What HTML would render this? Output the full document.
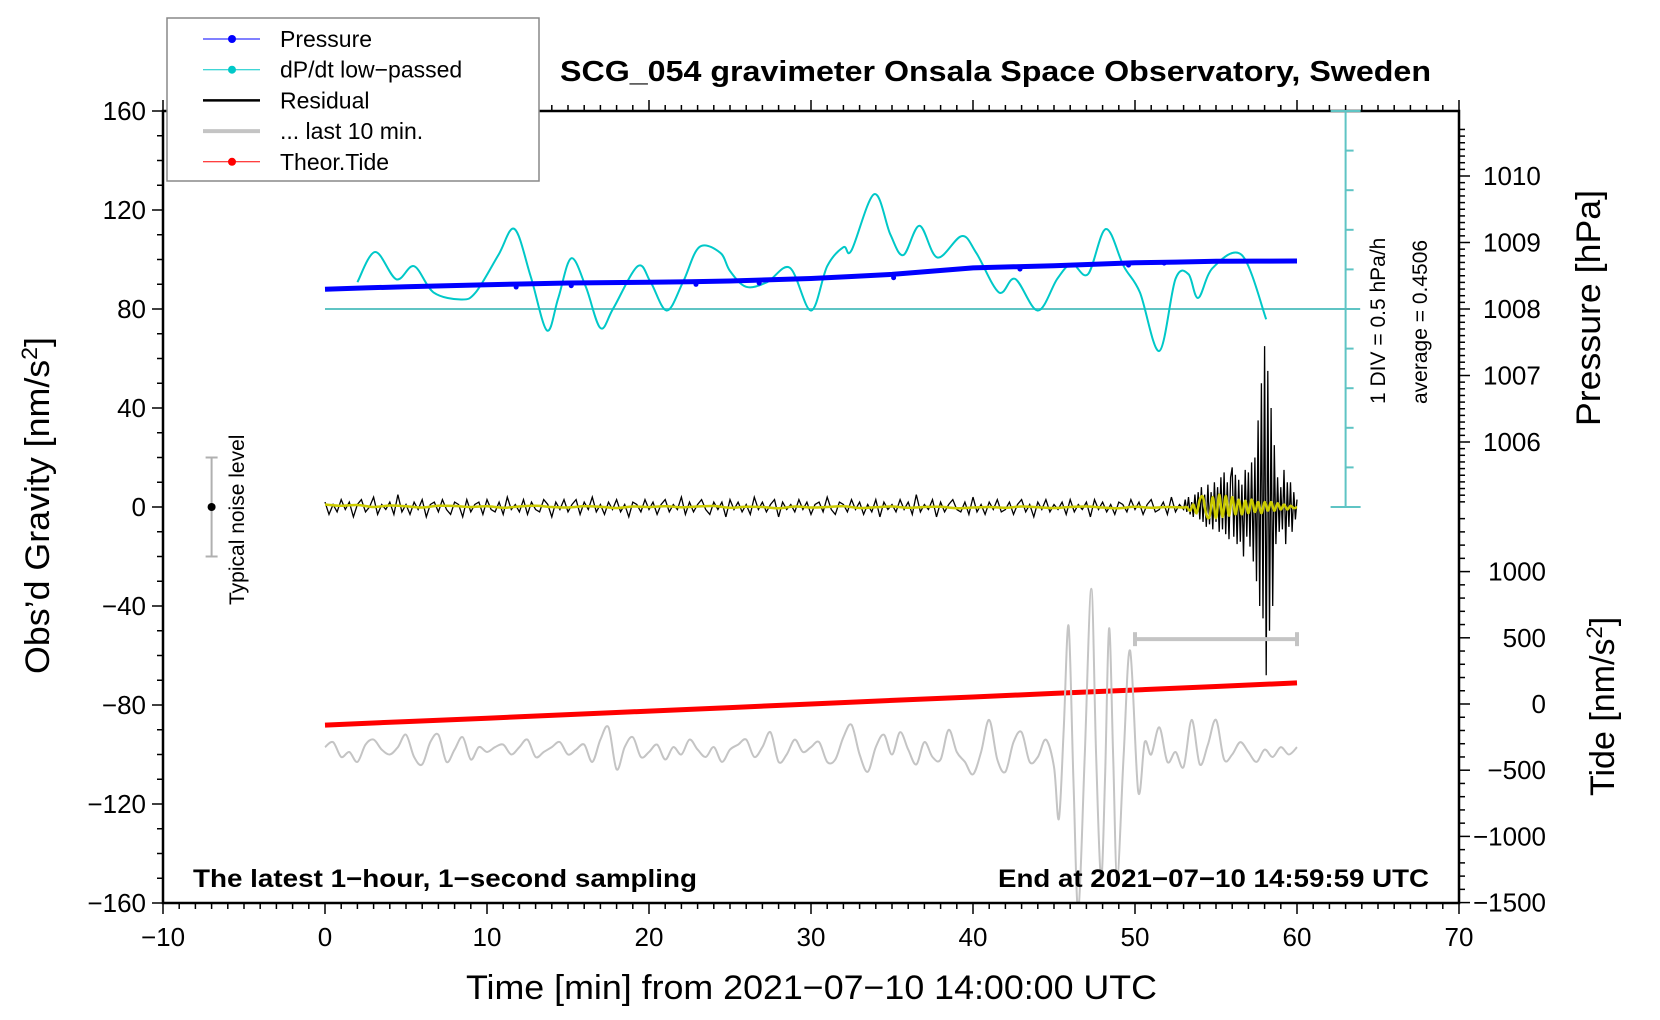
<!DOCTYPE html>
<html><head><meta charset="utf-8"><style>
html,body{margin:0;padding:0;background:#fff;}
svg{display:block;font-family:"Liberation Sans",Arial,sans-serif;}
</style></head><body>
<svg id="chart" width="1660" height="1020" viewBox="0 0 1660 1020" xmlns="http://www.w3.org/2000/svg">
<defs><clipPath id="plotclip"><rect x="163" y="111" width="1296" height="792"/></clipPath></defs>
<g id="marks" clip-path="url(#plotclip)"></g>
<g id="axes"></g>
</svg>
<script>
// ---- data ----
const xTickLabels = [-10,0,10,20,30,40,50,60,70];
const gravTickLabels = [160,120,80,40,0,-40,-80,-120,-160];
const pressTickLabels = [1010,1009,1008,1007,1006];
const tideTickLabels = [1000,500,0,-500,-1000,-1500];
// pressure (hPa) every 2.5 min from t=0
const pressureVals = [1008.298,1008.318,1008.335,1008.350,1008.365,1008.378,1008.391,1008.397,1008.402,1008.410,1008.421,1008.440,1008.458,1008.488,1008.521,1008.570,1008.618,1008.635,1008.651,1008.674,1008.696,1008.706,1008.718,1008.720,1008.722];
const pressOutT = [11.8,15.2,22.9,26.8,35.1,42.9,49.6,51.8];
const pressOutP = [1008.33,1008.35,1008.37,1008.39,1008.47,1008.60,1008.66,1008.69];
// dP/dt low-passed (hPa/h)
const dpdtT = [2.0,3.1,4.4,5.5,6.7,8.4,9.3,10.7,11.7,12.7,13.7,14.4,15.2,16.1,17.0,17.8,19.3,20.1,21.1,22.1,23.1,24.4,25.0,26.0,27.3,28.7,30.0,31.0,32.0,32.5,33.9,34.9,35.7,36.7,37.8,39.3,40.2,41.6,42.6,44.0,45.2,46.1,47.1,48.2,49.3,50.3,51.5,52.5,53.3,53.9,54.8,56.6,58.1];
const dpdtV = [0.34,0.72,0.375,0.54,0.21,0.12,0.21,0.68,1.01,0.41,-0.27,0.14,0.64,0.28,-0.24,0.01,0.54,0.34,-0.02,0.34,0.78,0.71,0.48,0.28,0.34,0.52,-0.02,0.54,0.78,0.74,1.45,0.94,0.68,1.05,0.65,0.92,0.71,0.21,0.38,-0.02,0.38,0.57,0.44,1.01,0.54,0.21,-0.53,0.38,0.44,0.14,0.52,0.68,-0.13];
// residual (nm/s2): calm part every 0.25 min from t=0, burst part every 0.1 min from t=53.1
const residualCalm = [2,-3,1,-2,3,-1,2,-4,1,3,-2,0,4,-3,1,-1,2,-3,5,-2,
1,-3,2,-1,3,-4,1,2,-2,3,-1,-3,2,1,-4,3,-2,1,2,-3,
3,-1,-2,2,-3,4,-1,1,-2,3,-3,2,-1,-2,3,1,-4,2,-1,3,
-2,1,3,-3,2,-1,4,-2,1,-3,2,-1,3,-2,1,-4,2,1,-2,3,
-1,2,-3,1,3,-2,1,-1,4,-3,2,-2,1,3,-1,-3,2,-1,2,-4,
3,-1,2,-2,1,-3,4,-1,2,-2,1,3,-4,2,-1,1,-2,3,-1,2,
-3,1,2,-2,4,-1,-3,2,1,-2,3,-1,2,-3,1,-2,3,-4,2,-1,
1,-2,3,-1,2,-3,5,-2,1,-1,3,-4,2,-2,1,3,-1,-2,2,-3,
4,-2,1,-3,2,-1,3,-2,-1,2,-3,1,3,-2,1,-4,2,-1,3,-2,
1,-1,2,-3,3,-2,1,-1,2,-4,3,-1,2,-2,1,-3,2,1,-2,3,
-1,2,-3,1,3,-2,-1,2,-3,4,-2,1,-1];
const residualBurst = [3,-2,4,-3,2,-4,5,-3,6,-5,
8,-6,5,-8,9,-7,6,-9,10,-6,
8,-10,12,-9,14,-11,10,-13,12,16,
-12,13,-15,11,-14,9,-20,15,-12,14,
-16,18,-22,20,-30,35,-40,50,-45,65,
-68,55,-50,40,-40,25,-15,12,-10,8,
-9,15,-15,10,-8,10,-10,6,-5,3];
// smoothed residual (yellow): every 1 min from 0..53, then every 0.2 from 53.2
const smoothCalm = [1,0.5,0.8,0,0.6,0.3,-0.2,0.5,0.4,0,0.3,-0.3,0.2,0.5,0,-0.2,0.3,0.1,-0.4,0.2,0,0.3,-0.1,0.2,0.4,-0.3,0.1,0,-0.5,0.2,-0.2,0,0.3,-0.4,-0.1,0.2,-0.3,0,0.1,-0.5,-0.2,0,-0.3,0.2,-0.1,-0.4,0,0.2,-0.2,-0.5,0.1,-0.3,0,-0.2];
const smoothBurst = [0,-1.5,1,-2.5,3,4,-3,-4,4,-4.5,5,-4,4.5,-3.5,4,-3,3,-3,2.5,-2.5,3,-2,2,-2.5,2,-1.5,2,-1.5,1.5,-1,1,-1,0.5,-0.5,0];
// last 10 min (stretched), gravity axis units: uniform every 0.5 min from 0..44.5, then tail
const grayUniform = [-97,-95,-101,-99,-103,-96,-94,-98,-100,-97,-92,-101,-104,-95,-92,-103,-98,-93,-102,-97,
-99,-97,-96,-100,-97,-94,-101,-99,-97,-95,-100,-98,-96,-103,-94,-89,-106,-97,-93,-101,
-99,-96,-102,-97,-100,-94,-98,-101,-97,-103,-98,-96,-94,-101,-97,-91,-103,-100,-94,-99,
-97,-95,-103,-102,-93,-88,-100,-107,-97,-92,-100,-91,-98,-104,-95,-101,-102,-90,-99,-103,
-108,-99,-86,-102,-107,-95,-91,-103,-101,-94];
const grayTailT = [45,45.3,45.6,45.9,46.2,46.5,46.9,47.3,47.6,47.9,48.15,48.4,48.65,48.9,49.3,49.7,50.2,50.6,51,51.5,52,52.5,53,53.5,54,54.5,55,55.5,56,56.5,57,57.5,58,58.5,59,59.5,60];
const grayTailV = [-105,-126,-90,-48,-110,-163,-100,-33,-100,-150,-110,-49,-100,-150,-100,-58,-115,-95,-100,-89,-103,-99,-105,-86,-104,-96,-86,-102,-100,-95,-99,-103,-98,-101,-97,-100,-97];
// theoretical tide (nm/s2) every 5 min
const tideVals = [-159,-133,-107,-80,-54,-27,0,27,53,80,106,132,159];

// ---- scales ----
const xS = t => 163 + (t + 10) * 16.2;
const yG = g => 111 + (160 - g) * 2.475;
const yP = p => 309 - (p - 1008) * 66.5;
const yT = v => 704 - v * 66.2 / 500;
const yD = v => yG(80) - v * 32 * 2.475;

const NS = 'http://www.w3.org/2000/svg';
const marks = document.getElementById('marks');
const axes = document.getElementById('axes');
function mk(tag, attrs, parent){ const e=document.createElementNS(NS,tag); for(const k in attrs) e.setAttribute(k,attrs[k]); parent.appendChild(e); return e; }
function smooth(pts){
  let d='M'+pts[0][0].toFixed(1)+','+pts[0][1].toFixed(1);
  for(let i=0;i<pts.length-1;i++){
    const p0=pts[i-1]||pts[i], p1=pts[i], p2=pts[i+1], p3=pts[i+2]||p2;
    const c1=[p1[0]+(p2[0]-p0[0])/6, p1[1]+(p2[1]-p0[1])/6];
    const c2=[p2[0]-(p3[0]-p1[0])/6, p2[1]-(p3[1]-p1[1])/6];
    d+=' C'+c1[0].toFixed(1)+','+c1[1].toFixed(1)+' '+c2[0].toFixed(1)+','+c2[1].toFixed(1)+' '+p2[0].toFixed(1)+','+p2[1].toFixed(1);
  }
  return d;
}
function poly(pts){ return 'M'+pts.map(p=>p[0].toFixed(1)+','+p[1].toFixed(1)).join(' L'); }

let e = mk('line',{x1:xS(0),x2:xS(63.9),y1:yD(0),y2:yD(0),stroke:'#5fc4c4','stroke-width':2},marks);


e = mk('path',{d:smooth(dpdtT.map((t,i)=>[xS(t),yD(dpdtV[i])])),fill:'none',stroke:'#00c8c8','stroke-width':2},marks);


const pPts = pressureVals.map((p,i)=>[xS(i*2.5),yP(p)]);
e = mk('path',{d:poly(pPts),fill:'none',stroke:'#0000ff','stroke-width':5},marks);


pressOutT.forEach((t,i)=>{
  const c = mk('circle',{cx:xS(t),cy:yP(pressOutP[i]),r:2.5,fill:'#0000ff'},marks);
  
  
});
const rPts = residualCalm.map((v,i)=>[xS(i*0.25),yG(v)]).concat(residualBurst.map((v,i)=>[xS(53.1+i*0.1),yG(v)]));
e = mk('path',{d:poly(rPts),fill:'none',stroke:'#000','stroke-width':1.3},marks);


const sPts = smoothCalm.map((v,i)=>[xS(i),yG(v)]).concat(smoothBurst.map((v,i)=>[xS(53.2+i*0.2),yG(v)]));
e = mk('path',{d:smooth(sPts),fill:'none',stroke:'#cccc00','stroke-width':2.5},marks);


e = mk('path',{d:poly(tideVals.map((v,i)=>[xS(i*5),yT(v)])),fill:'none',stroke:'#ff0000','stroke-width':5},marks);


const gPts = grayUniform.map((v,i)=>[xS(i*0.5),yG(v)]).concat(grayTailT.map((t,i)=>[xS(t),yG(grayTailV[i])]));
e = mk('path',{d:smooth(gPts),fill:'none',stroke:'#c4c4c4','stroke-width':2},marks);


const gb = mk('g',{stroke:'#c4c4c4','stroke-width':4},marks);


mk('line',{x1:xS(50),x2:xS(60),y1:yG(-53.4),y2:yG(-53.4)},gb);
mk('line',{x1:xS(50),x2:xS(50),y1:yG(-53.4)-7,y2:yG(-53.4)+7},gb);
mk('line',{x1:xS(60),x2:xS(60),y1:yG(-53.4)-7,y2:yG(-53.4)+7},gb);

const nb = mk('g',{stroke:'#b0b0b0','stroke-width':2},axes);


mk('line',{x1:xS(-7),x2:xS(-7),y1:yG(20),y2:yG(-20)},nb);
mk('line',{x1:xS(-7)-6,x2:xS(-7)+6,y1:yG(20),y2:yG(20)},nb);
mk('line',{x1:xS(-7)-6,x2:xS(-7)+6,y1:yG(-20),y2:yG(-20)},nb);
mk('circle',{cx:xS(-7),cy:yG(0),r:4,fill:'#000',stroke:'none'},nb);

const frame = mk('g',{stroke:'#000','stroke-width':2.5,fill:'none'},axes);


mk('rect',{x:163,y:111,width:1296,height:792},frame);
const tk = mk('g',{stroke:'#000','stroke-width':1.5},axes);


for(let t=-10;t<=70;t++){
  const L = t%10===0?11:6;
  mk('line',{x1:xS(t),x2:xS(t),y1:903,y2:903+L},tk);
  mk('line',{x1:xS(t),x2:xS(t),y1:111,y2:111-L},tk);
}
for(let g=-160;g<=160;g+=10){
  const L = g%40===0?11:6;
  mk('line',{x1:163,x2:163-L,y1:yG(g),y2:yG(g)},tk);
}
for(let p=1005.1;p<=1010.8;p+=0.1){
  const y=yP(p); if(y<111||y>506) continue;
  const major = Math.abs(p-Math.round(p))<0.01;
  mk('line',{x1:1459,x2:1459+(major?11:6),y1:y,y2:y},tk);
}
for(let v=-1500;v<=1400;v+=100){
  const y=yT(v); if(y<506) continue;
  mk('line',{x1:1459,x2:1459+(v%500===0?11:6),y1:y,y2:y},tk);
}
const ca = mk('g',{stroke:'#5fc4c4','stroke-width':2},axes);


mk('line',{x1:xS(63),x2:xS(63),y1:111,y2:yG(0)},ca);
mk('line',{x1:xS(63)-15,x2:xS(63)+15,y1:111,y2:111},ca);
mk('line',{x1:xS(63)-15,x2:xS(63)+15,y1:yG(0),y2:yG(0)},ca);
for(let g=0;g<=160;g+=16){ mk('line',{x1:xS(63),x2:xS(63)+8,y1:yG(g),y2:yG(g)},ca); }

function txt(s,attrs,name,parent){ const t=mk('text',attrs,parent||axes); t.textContent=s;   return t; }
xTickLabels.forEach(v=>{ txt(String(v).replace('-','\u2212'),{x:xS(v),y:946,'font-size':26,'text-anchor':'middle'},'x-tick-label'); });
gravTickLabels.forEach(v=>{ txt(String(v).replace('-','\u2212'),{x:146,y:yG(v)+9,'font-size':26,'text-anchor':'end'},'y-tick-label'); });
pressTickLabels.forEach(v=>{ txt(String(v),{x:1483,y:yP(v)+9,'font-size':26},'pressure-tick-label'); });
tideTickLabels.forEach(v=>{ txt(String(v).replace('-','\u2212'),{x:1546,y:yT(v)+9,'font-size':26,'text-anchor':'end'},'tide-tick-label'); });

txt('SCG_054 gravimeter Onsala Space Observatory, Sweden',{x:560,y:81,'font-size':29,'font-weight':'bold',textLength:871,lengthAdjust:'spacingAndGlyphs'},'chart-title');
txt('The latest 1\u2212hour, 1\u2212second sampling',{x:193,y:887,'font-size':25,'font-weight':'bold',textLength:504,lengthAdjust:'spacingAndGlyphs'},'period-note');
txt('End at 2021\u221207\u221210 14:59:59 UTC',{x:998,y:887,'font-size':25,'font-weight':'bold',textLength:431,lengthAdjust:'spacingAndGlyphs'},'end-time-note');
txt('Time [min] from 2021\u221207\u221210 14:00:00 UTC',{x:466,y:999,'font-size':34,textLength:691,lengthAdjust:'spacingAndGlyphs'},'x-axis-title');
const yt = txt('',{transform:'translate(49,674) rotate(-90)','font-size':34,textLength:337,lengthAdjust:'spacingAndGlyphs'},'y-axis-title');
yt.innerHTML = 'Obs\u2019d Gravity [nm/s<tspan dy="-12" font-size="22">2</tspan><tspan dy="12">]</tspan>';
txt('Pressure [hPa]',{transform:'translate(1600,426) rotate(-90)','font-size':34,textLength:236,lengthAdjust:'spacingAndGlyphs'},'pressure-axis-title');
const tt = txt('',{transform:'translate(1614,796) rotate(-90)','font-size':34},'tide-axis-title');
tt.innerHTML = 'Tide [nm/s<tspan dy="-12" font-size="22">2</tspan><tspan dy="12">]</tspan>';
txt('1 DIV = 0.5 hPa/h',{transform:'translate(1385,404) rotate(-90)','font-size':21},'dpdt-scale-label');
txt('average = 0.4506',{transform:'translate(1427,404) rotate(-90)','font-size':21},'dpdt-average-label');
txt('Typical noise level',{transform:'translate(244,605) rotate(-90)','font-size':21},'noise-level-label');

const lg = mk('g',{},axes);


mk('rect',{x:167,y:18,width:372,height:163,fill:'#fff',stroke:'#888','stroke-width':1.5},lg);
const legNames = ['Pressure','dP/dt low\u2212passed','Residual','... last 10 min.','Theor.Tide'];
const legCols = ['#0000ff','#00c8c8','#000','#c4c4c4','#ff0000'];
const legW = [1,1,2.5,4,1];
const legDot = [true,true,false,false,true];
legNames.forEach((n,i)=>{
  const y = 39 + i*30.7;
  const g = mk('g',{},lg);
  
  
  mk('line',{x1:203,x2:260,y1:y,y2:y,stroke:legCols[i],'stroke-width':legW[i]},g);
  if(legDot[i]) mk('circle',{cx:232,cy:y,r:4,fill:legCols[i]},g);
  txt(n,{x:280,y:y+8,'font-size':23},'legend-label',g);
});
</script>
</body></html>
